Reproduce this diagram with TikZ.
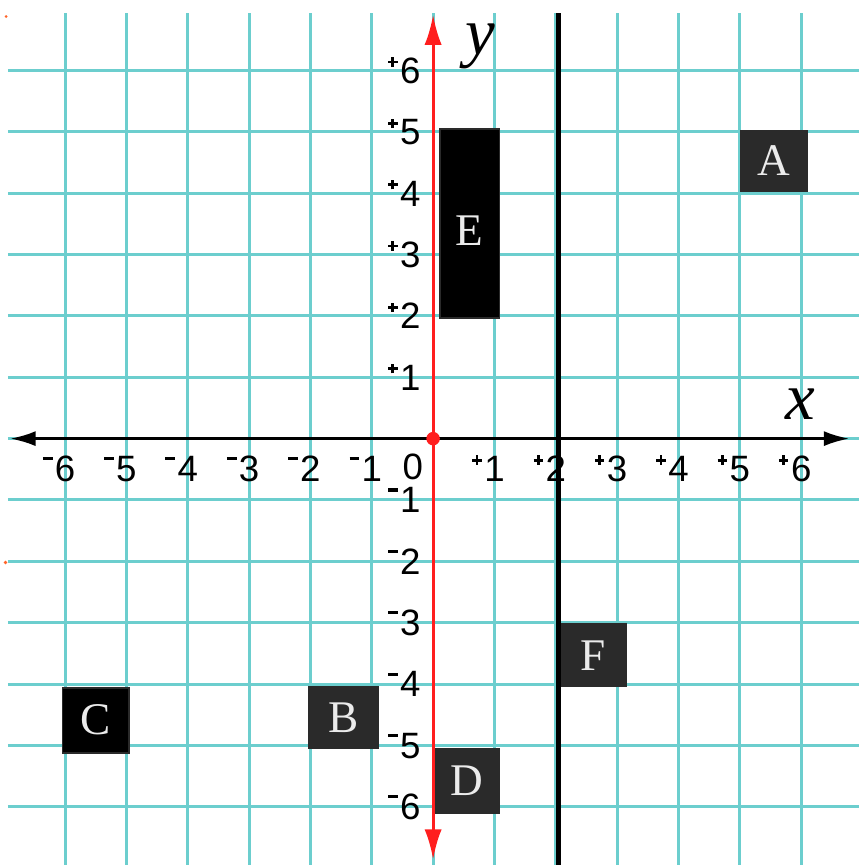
\documentclass[tikz,border=0pt]{standalone}
\usepackage{fontspec}
\setmainfont{Liberation Serif}
\newfontfamily\ticksf{Liberation Sans}
\usetikzlibrary{arrows.meta}
\definecolor{gridc}{RGB}{108,206,206}
\definecolor{boxc}{RGB}{42,42,42}
\definecolor{axred}{RGB}{255,30,30}
\definecolor{dotor}{RGB}{255,100,40}
\newcommand\mn{\llap{\raisebox{9.9pt}{\rule{4.6pt}{1.4pt}}\hspace{1pt}}}
\newcommand\pl{\llap{\raisebox{9.3pt}{\rlap{\rule{4.4pt}{1.3pt}}\hspace{1.55pt}\rule[-1.55pt]{1.3pt}{4.4pt}\hspace{1.55pt}}\hspace{1.2pt}}}
\begin{document}
\begin{tikzpicture}[
 gridline/.style={gridc, line width=1.4pt},
 tick/.style={font=\ticksf\fontsize{17}{17}\selectfont, inner sep=0pt, anchor=base},
 box/.style={fill=boxc, draw=boxc, line width=0.8pt, inner sep=0pt, text=white!92!black, font=\fontsize{21}{21}\selectfont},
 boxdark/.style={box, fill=black},
 axlabel/.style={font=\itshape\fontsize{31}{31}\selectfont, inner sep=0pt, anchor=base}
]
\useasboundingbox (-7.06,-6.95) rectangle (6.94,7.15);
\foreach \i in {-6,...,6} {
  \draw[gridline] (\i,6.93) -- (\i,-6.95);
  \draw[gridline] (-6.93,\i) -- (6.94,\i);
}
\fill[dotor] (-6.96,6.88) circle (0.025);
\fill[dotor] (-6.97,-2.02) circle (0.03);
% boxes
\node[box, minimum width=1.09cm, minimum height=0.99cm] (A) at (5.555,4.525) {A};
\node[boxdark, minimum width=0.97cm, minimum height=3.08cm] (E) at (0.595,3.51) {\raisebox{-0.37cm}[0pt][0pt]{E}};
\node[boxdark, minimum width=1.08cm, minimum height=1.06cm] (C) at (-5.5,-4.59) {C};
\node[box, minimum width=1.13cm, minimum height=1.01cm] (B) at (-1.465,-4.545) {B};
\node[box, minimum width=1.06cm, minimum height=1.06cm] (D) at (0.55,-5.58) {D};
\node[box, minimum width=1.09cm, minimum height=1.02cm] (F) at (2.605,-3.53) {F};
% vertical line x=2
\coordinate (vtop) at (2.04,6.93);
\coordinate (vbot) at (2.04,-6.95);
\draw[line width=2.4pt] (vtop) -- (vbot);
% x axis
\coordinate (xl) at (-6.9,0);
\coordinate (xr) at (6.79,0);
\draw[line width=1.5pt, {Latex[length=12pt,width=7pt]}-{Latex[length=12pt,width=7pt]}] (xl) -- (xr);
% y axis
\coordinate (yt) at (0,6.91);
\coordinate (yb) at (0,-6.86);
\draw[axred, line width=1.4pt, {Latex[length=14pt,width=8pt]}-{Latex[length=14pt,width=8pt]}] (yb) -- (yt);
\node[circle, fill=axred, minimum size=0.22cm, inner sep=0pt] (O) at (0,0) {};
% tick labels
\foreach \i in {1,...,6} {
  \node[tick] (xp\i) at (\i,-0.7) {\pl\i};
  \node[tick] (xm\i) at (-\i,-0.7) {\mn\i};
  \node[tick] (yp\i) at (-0.37,{\i-0.21}) {\pl\i};
  \node[tick] (ym\i) at (-0.37,{-\i-0.21}) {\mn\i};
}
\node[tick] (x0) at (-0.33,-0.66) {0};
% axis names
\node[axlabel] (xlab) at (5.98,0.31) {x};
\node[axlabel] (ylab) at (0.77,6.26) {y};
\end{tikzpicture}
\end{document}
